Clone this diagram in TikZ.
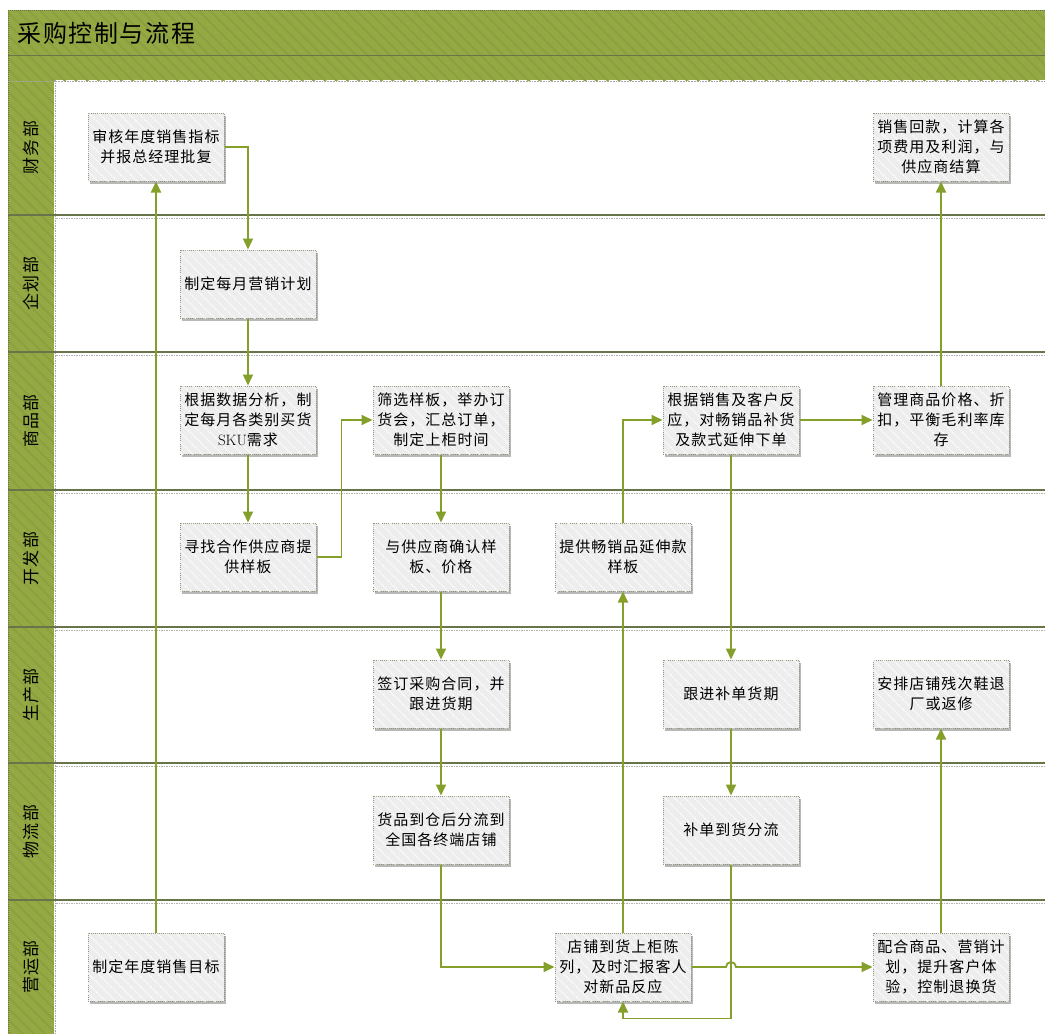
\documentclass[tikz,border=0pt]{standalone}
\usepackage{fontspec}
\newfontfamily\cjk[LetterSpace=6.7]{Noto Sans CJK SC}
\usetikzlibrary{arrows.meta,patterns.meta,shadows}
\definecolor{hdr}{HTML}{94A843}
\definecolor{hdrdark}{HTML}{8DA03F}
\definecolor{conncol}{HTML}{84A02A}
\definecolor{sepcol}{HTML}{68744A}
\definecolor{boxfill}{HTML}{EDEDED}
\definecolor{boxline}{HTML}{8E967A}
\begin{document}
\begin{tikzpicture}[x=1pt,y=-1pt,
  box/.style={draw=boxline, densely dotted, line width=1pt, fill=boxfill,
    minimum width=136pt, minimum height=68pt, inner sep=2pt, align=center,
    font=\cjk\fontsize{15}{20}\selectfont,
    drop shadow={shadow xshift=2pt, shadow yshift=-3pt, fill=black!28, opacity=1},
    postaction={pattern={Lines[angle=-45,distance=7pt,line width=1.2pt]}, pattern color=white!96!boxfill}},
  conn/.style={draw=conncol, line width=1.8pt, -{Triangle[length=11pt,width=10pt]}},
  lanelabel/.style={rotate=90, font=\cjk\fontsize{17}{20}\selectfont, text=black},
  hatch/.style={pattern={Lines[angle=-45,distance=8pt,line width=2pt]}, pattern color=hdrdark}]
\useasboundingbox (0,0) rectangle (1045,1034);
\fill[white] (0,0) rectangle (1045,1034);
% header
\fill[hdr] (8,10) rectangle (1050,80);
\fill[hatch] (8,10) rectangle (1050,80);
\draw[sepcol, line width=1pt] (8,55) -- (1050,55);
\draw[sepcol, densely dotted, line width=1pt] (8,10) -- (1050,10);
\node[anchor=west, font=\cjk\fontsize{24}{28}\selectfont] (title) at (14,33) {采购控制与流程};
% label column
\fill[hdr] (8,80) rectangle (54,1040);
\fill[hatch] (8,80) rectangle (54,1040);
\draw[sepcol, densely dotted, line width=1pt] (8,10) -- (8,1040);
\draw[black!35, densely dotted, line width=1.5pt] (55.5,80) -- (55.5,1040);
\draw[black!35, densely dotted, line width=1.8pt] (8,81.5) -- (1050,81.5);
\foreach \yy in {215,352,490,627,763,900}{
  \draw[sepcol, line width=1.4pt] (8,\yy) -- (1050,\yy);
  \draw[black!30, densely dotted, line width=1.5pt] (56,\yy+3.5) -- (1050,\yy+3.5);
}
% lane labels
\node[lanelabel] (l1) at (31,147.5) {财务部};
\node[lanelabel] (l2) at (31,283.5) {企划部};
\node[lanelabel] (l3) at (31,421) {商品部};
\node[lanelabel] (l4) at (31,558.5) {开发部};
\node[lanelabel] (l5) at (31,695) {生产部};
\node[lanelabel] (l6) at (31,831.5) {物流部};
\node[lanelabel] (l7) at (31,967) {营运部};
% boxes
\node[box] (shenhe) at (156,147) {审核年度销售指标\\并报总经理批复};
\node[box] (huikuan) at (941,147) {销售回款，计算各\\项费用及利润，与\\供应商结算};
\node[box] (jihua) at (248,284) {制定每月营销计划};
\node[box] (shuju) at (248,420) {根据数据分析，制\\定每月各类别买货\\{\rmfamily SKU}需求};
\node[box] (shaixuan) at (441,420) {筛选样板，举办订\\货会，汇总订单，\\制定上柜时间};
\node[box] (genju) at (731,420) {根据销售及客户反\\应，对畅销品补货\\及款式延伸下单};
\node[box] (guanli) at (941,420) {管理商品价格、折\\扣，平衡毛利率库\\存};
\node[box] (xunzhao) at (248,557) {寻找合作供应商提\\供样板};
\node[box] (queren) at (441,557) {与供应商确认样\\板、价格};
\node[box] (tigong) at (623,557) {提供畅销品延伸款\\样板};
\node[box] (qianding) at (441,694) {签订采购合同，并\\跟进货期};
\node[box] (genjin) at (731,694) {跟进补单货期};
\node[box] (anpai) at (941,694) {安排店铺残次鞋退\\厂或返修};
\node[box] (huopin) at (441,830) {货品到仓后分流到\\全国各终端店铺};
\node[box] (budan) at (731,830) {补单到货分流};
\node[box] (nianmu) at (156,967) {制定年度销售目标};
\node[box] (dianpu) at (623,967) {店铺到货上柜陈\\列，及时汇报客人\\对新品反应};
\node[box] (peihe) at (941,967) {配合商品、营销计\\划，提升客户体\\验，控制退换货};
% connectors
\draw[conn] (nianmu.north) -- (shenhe.south);
\draw[conn] (shenhe.east) -| (jihua.north);
\draw[conn] (jihua.south) -- (shuju.north);
\draw[conn] (shuju.south) -- (xunzhao.north);
\draw[conn] (xunzhao.east) -- ++(25,0) |- (shaixuan.west);
\draw[conn] (shaixuan.south) -- (queren.north);
\draw[conn] (queren.south) -- (qianding.north);
\draw[conn] (qianding.south) -- (huopin.north);
\draw[conn] (huopin.south) |- (dianpu.west);
\draw[conn] (dianpu.north) -- (tigong.south);
\draw[conn] (tigong.north) |- (genju.west);
\draw[conn] (genju.south) -- (genjin.north);
\draw[conn] (genjin.south) -- (budan.north);
\draw[conn] (budan.south) |- ([yshift=-17pt]dianpu.south) -- (dianpu.south);
\draw[conn] (genju.east) -- (guanli.west);
\draw[conn] (guanli.north) -- (huikuan.south);
\draw[conn] (peihe.north) -- (anpai.south);
\draw[conn] (dianpu.east) -- ([xshift=-5pt]budan.south |- dianpu.east) arc[start angle=180, end angle=360, radius=5] -- (peihe.west);
\end{tikzpicture}
\end{document}
